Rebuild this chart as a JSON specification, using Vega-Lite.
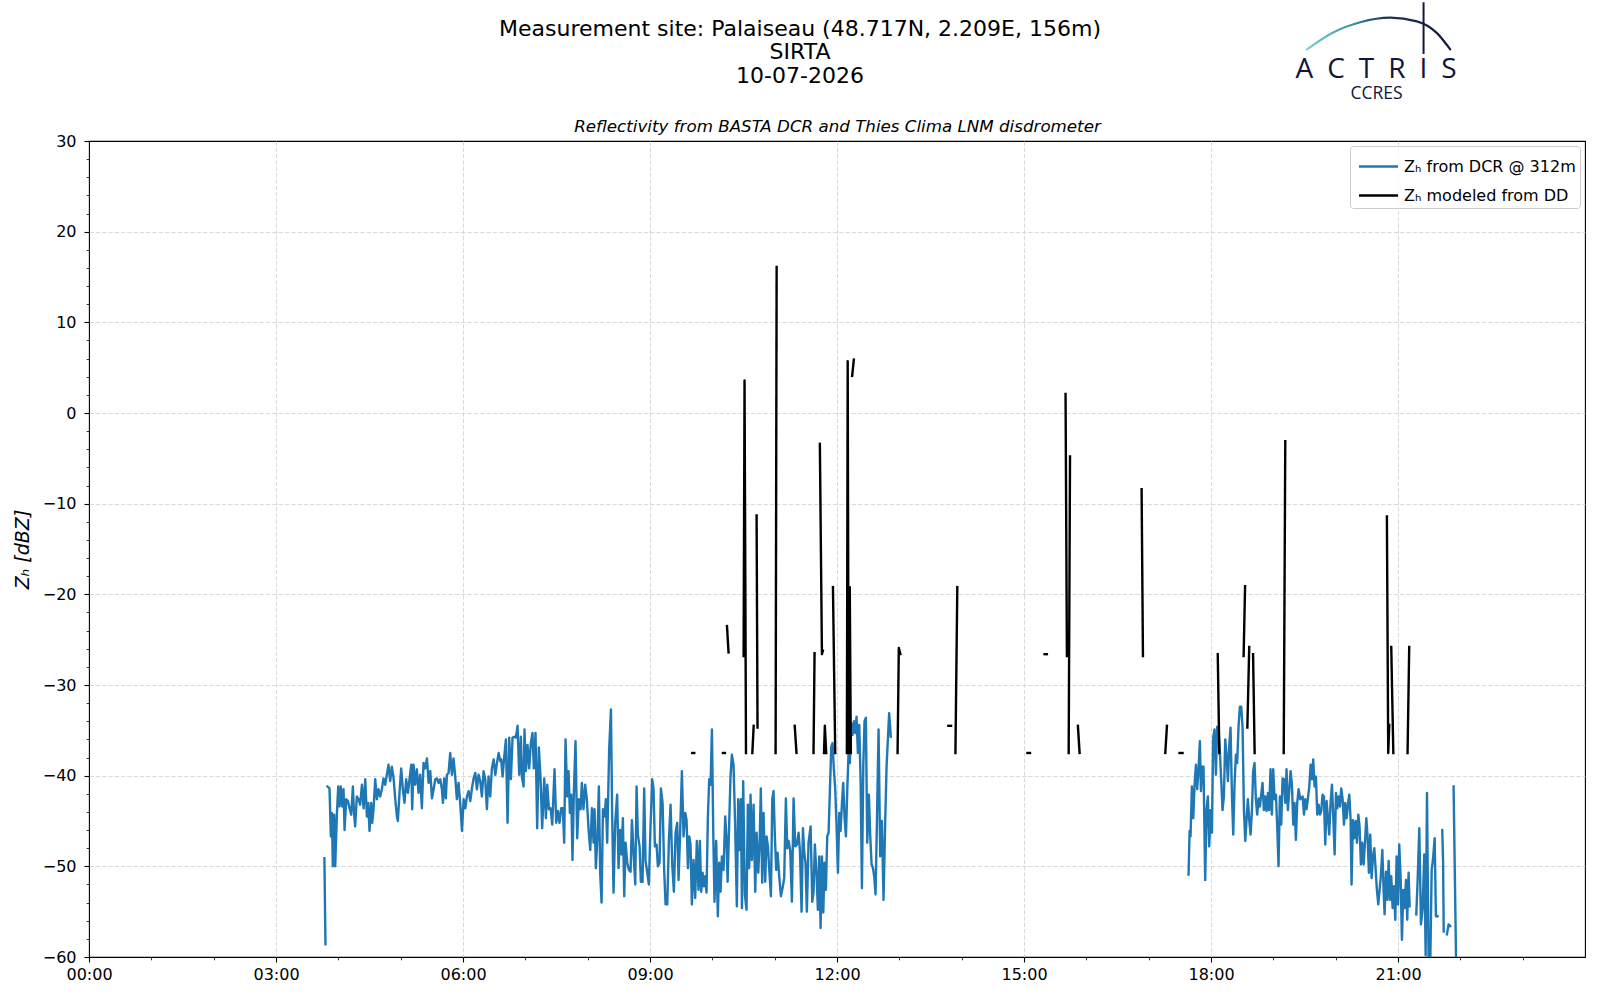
{
  "$schema": "https://vega.github.io/schema/vega-lite/v6.json",
  "autosize": {"type": "none"},
  "width": 1496,
  "height": 816,
  "padding": {"left": 89, "top": 141, "right": 15, "bottom": 43},
  "background": "white",
  "title": {
    "text": ["Measurement site: Palaiseau (48.717N, 2.209E, 156m)", "SIRTA", "10-07-2026"],
    "anchor": "middle",
    "frame": "group",
    "dx": -37,
    "dy": 86.5,
    "offset": 0,
    "font": "DejaVu Sans",
    "fontSize": 22,
    "fontWeight": "normal",
    "lineHeight": 23.5,
    "color": "#000000"
  },
  "config": {
    "font": "DejaVu Sans",
    "view": {"stroke": "#000000", "strokeWidth": 1.1},
    "axis": {
      "domain": false,
      "labelFont": "DejaVu Sans",
      "labelFontSize": 16,
      "labelColor": "#000000",
      "labelFlush": false,
      "tickColor": "#000000",
      "tickWidth": 1.1,
      "tickSize": 5,
      "labelPadding": 6,
      "gridColor": "#d0d0d0",
      "gridDash": [4.4, 1.9],
      "gridWidth": 0.8,
      "titleFont": "DejaVu Sans",
      "titleColor": "#000000",
      "titleFontWeight": "normal"
    },
    "legend": {
      "orient": "top-right",
      "offset": 5,
      "fillColor": "rgba(255,255,255,0.8)",
      "strokeColor": "#cccccc",
      "cornerRadius": 3,
      "padding": 4,
      "labelFont": "DejaVu Sans",
      "labelFontSize": 16,
      "labelColor": "#000000",
      "labelLimit": 400,
      "symbolType": "M-1.3,0H1.3",
      "symbolSize": 900,
      "symbolOffset": 8,
      "symbolStrokeWidth": 2.3,
      "labelOffset": 9,
      "rowPadding": 4
    }
  },
  "datasets": {
    "dcr": [
      {"t":226.6,"z":-49.1,"s":1},{"t":227.6,"z":-58.6,"s":1},
      {"t":229.6,"z":-41.2,"s":2},{"t":231.5,"z":-41.4,"s":2},{"t":232.8,"z":-46.7,"s":2},{"t":233.8,"z":-44.1,"s":2},{"t":234.7,"z":-50.0,"s":2},
      {"t":236.0,"z":-44.3,"s":2},{"t":237.0,"z":-50.0,"s":2},{"t":238.6,"z":-44.3,"s":2},{"t":239.9,"z":-41.2,"s":2},{"t":241.1,"z":-43.4,"s":2},
      {"t":242.4,"z":-41.2,"s":2},{"t":243.7,"z":-43.4,"s":2},{"t":245.0,"z":-41.5,"s":2},{"t":246.0,"z":-46.0,"s":2},{"t":247.6,"z":-42.6,"s":2},
      {"t":249.2,"z":-42.8,"s":2},{"t":250.8,"z":-43.6,"s":2},{"t":252.4,"z":-44.3,"s":2},{"t":254.0,"z":-41.2,"s":2},{"t":255.0,"z":-43.9,"s":2},
      {"t":256.2,"z":-45.6,"s":2},{"t":257.8,"z":-42.3,"s":2},{"t":259.4,"z":-42.6,"s":2},{"t":261.0,"z":-43.2,"s":2},{"t":262.7,"z":-41.0,"s":2},
      {"t":264.3,"z":-43.6,"s":2},{"t":265.9,"z":-40.4,"s":2},{"t":267.5,"z":-44.5,"s":2},{"t":268.8,"z":-43.0,"s":2},{"t":270.0,"z":-46.1,"s":2},
      {"t":271.6,"z":-43.0,"s":2},{"t":272.6,"z":-45.2,"s":2},{"t":273.9,"z":-43.7,"s":2},{"t":275.5,"z":-40.4,"s":2},{"t":277.1,"z":-42.6,"s":2},
      {"t":278.7,"z":-41.5,"s":2},{"t":280.3,"z":-42.3,"s":2},{"t":281.9,"z":-41.5,"s":2},{"t":283.5,"z":-40.3,"s":2},{"t":285.1,"z":-41.0,"s":2},
      {"t":286.7,"z":-39.9,"s":2},{"t":288.3,"z":-38.8,"s":2},{"t":289.9,"z":-40.6,"s":2},{"t":291.5,"z":-39.0,"s":2},{"t":293.2,"z":-40.3,"s":2},
      {"t":294.8,"z":-42.6,"s":2},{"t":296.4,"z":-44.5,"s":2},{"t":297.3,"z":-45.0,"s":2},{"t":298.9,"z":-41.9,"s":2},{"t":300.5,"z":-39.2,"s":2},
      {"t":302.1,"z":-41.5,"s":2},{"t":303.7,"z":-43.0,"s":2},{"t":305.3,"z":-40.4,"s":2},{"t":307.0,"z":-41.9,"s":2},{"t":308.6,"z":-40.3,"s":2},
      {"t":310.2,"z":-38.8,"s":2},{"t":311.1,"z":-43.7,"s":2},{"t":312.4,"z":-38.8,"s":2},{"t":314.0,"z":-41.0,"s":2},{"t":315.6,"z":-39.3,"s":2},
      {"t":317.2,"z":-41.9,"s":2},{"t":318.8,"z":-39.9,"s":2},{"t":320.4,"z":-43.6,"s":2},{"t":322.0,"z":-38.6,"s":2},{"t":323.6,"z":-39.2,"s":2},
      {"t":325.3,"z":-38.1,"s":2},{"t":326.9,"z":-40.8,"s":2},{"t":328.5,"z":-39.5,"s":2},{"t":330.1,"z":-42.5,"s":2},{"t":331.7,"z":-41.5,"s":2},
      {"t":333.3,"z":-40.4,"s":2},{"t":334.9,"z":-40.3,"s":2},{"t":336.5,"z":-40.8,"s":2},{"t":338.1,"z":-40.4,"s":2},{"t":339.7,"z":-41.5,"s":2},
      {"t":340.7,"z":-43.0,"s":2},{"t":341.9,"z":-40.3,"s":2},{"t":343.5,"z":-42.5,"s":2},{"t":344.5,"z":-39.9,"s":2},{"t":346.1,"z":-39.7,"s":2},
      {"t":347.7,"z":-37.5,"s":2},{"t":349.3,"z":-39.9,"s":2},{"t":350.9,"z":-38.1,"s":2},{"t":352.5,"z":-40.1,"s":2},{"t":354.1,"z":-42.6,"s":2},
      {"t":355.7,"z":-40.8,"s":2},{"t":357.4,"z":-43.2,"s":2},{"t":359.0,"z":-46.1,"s":2},{"t":360.6,"z":-42.6,"s":2},{"t":362.2,"z":-43.6,"s":2},
      {"t":363.8,"z":-42.3,"s":2},{"t":365.4,"z":-41.7,"s":2},{"t":367.0,"z":-42.8,"s":2},{"t":368.6,"z":-41.4,"s":2},{"t":370.2,"z":-40.3,"s":2},
      {"t":371.8,"z":-39.7,"s":2},{"t":373.4,"z":-41.5,"s":2},{"t":375.0,"z":-39.9,"s":2},{"t":376.6,"z":-40.6,"s":2},{"t":378.2,"z":-42.3,"s":2},
      {"t":379.8,"z":-39.5,"s":2},{"t":381.4,"z":-40.4,"s":2},{"t":383.0,"z":-43.7,"s":2},{"t":384.6,"z":-40.1,"s":2},{"t":386.2,"z":-42.3,"s":2},
      {"t":387.8,"z":-39.2,"s":2},{"t":389.5,"z":-38.2,"s":2},{"t":391.1,"z":-39.9,"s":2},{"t":392.7,"z":-38.6,"s":2},{"t":394.3,"z":-37.5,"s":2},
      {"t":395.9,"z":-38.4,"s":2},{"t":396.8,"z":-38.2,"s":2},{"t":398.1,"z":-40.1,"s":2},{"t":399.7,"z":-37.9,"s":2},{"t":401.3,"z":-36.0,"s":2},
      {"t":402.9,"z":-45.2,"s":2},{"t":404.5,"z":-35.8,"s":2},{"t":406.1,"z":-40.4,"s":2},{"t":407.7,"z":-35.8,"s":2},{"t":409.3,"z":-35.7,"s":2},
      {"t":410.9,"z":-35.8,"s":2},{"t":412.5,"z":-34.5,"s":2},{"t":414.1,"z":-39.9,"s":2},{"t":415.7,"z":-35.7,"s":2},{"t":416.7,"z":-40.1,"s":2},
      {"t":418.3,"z":-41.2,"s":2},{"t":419.2,"z":-34.9,"s":2},{"t":420.5,"z":-39.5,"s":2},{"t":422.1,"z":-36.6,"s":2},{"t":423.7,"z":-39.2,"s":2},
      {"t":425.3,"z":-36.4,"s":2},{"t":426.9,"z":-35.3,"s":2},{"t":428.2,"z":-39.2,"s":2},{"t":429.8,"z":-35.3,"s":2},{"t":431.4,"z":-45.8,"s":2},
      {"t":433.0,"z":-36.9,"s":2},{"t":434.6,"z":-40.1,"s":2},{"t":436.2,"z":-45.8,"s":2},{"t":438.2,"z":-40.3,"s":2},{"t":439.8,"z":-44.7,"s":2},
      {"t":441.1,"z":-41.0,"s":2},{"t":442.7,"z":-43.7,"s":2},{"t":444.3,"z":-43.6,"s":2},{"t":445.9,"z":-45.4,"s":2},{"t":448.1,"z":-39.3,"s":2},
      {"t":449.7,"z":-45.2,"s":2},{"t":451.3,"z":-43.9,"s":2},{"t":452.9,"z":-45.2,"s":2},{"t":454.5,"z":-43.6,"s":2},{"t":456.1,"z":-43.6,"s":2},
      {"t":457.4,"z":-47.4,"s":2},{"t":458.7,"z":-36.0,"s":2},{"t":460.3,"z":-42.3,"s":2},{"t":461.6,"z":-39.5,"s":2},{"t":462.9,"z":-44.1,"s":2},
      {"t":464.2,"z":-42.1,"s":2},{"t":465.4,"z":-49.3,"s":2},{"t":466.7,"z":-41.9,"s":2},{"t":468.3,"z":-36.2,"s":2},{"t":469.9,"z":-46.9,"s":2},
      {"t":471.5,"z":-42.6,"s":2},{"t":473.2,"z":-43.7,"s":2},{"t":474.4,"z":-40.8,"s":2},{"t":476.0,"z":-43.7,"s":2},{"t":477.6,"z":-41.0,"s":2},
      {"t":479.2,"z":-42.6,"s":2},{"t":480.9,"z":-46.0,"s":2},{"t":482.5,"z":-48.2,"s":2},{"t":484.1,"z":-43.6,"s":2},{"t":485.7,"z":-47.4,"s":2},
      {"t":486.6,"z":-43.7,"s":2},{"t":487.9,"z":-50.2,"s":2},{"t":489.5,"z":-46.5,"s":2},{"t":490.8,"z":-41.2,"s":2},{"t":492.1,"z":-50.9,"s":2},
      {"t":493.4,"z":-54.0,"s":2},{"t":494.7,"z":-43.7,"s":2},{"t":496.3,"z":-44.5,"s":2},{"t":497.5,"z":-42.6,"s":2},{"t":498.8,"z":-47.4,"s":2},
      {"t":500.7,"z":-37.1,"s":2},{"t":502.4,"z":-32.7,"s":2},{"t":503.6,"z":-44.5,"s":2},{"t":504.9,"z":-52.9,"s":2},{"t":506.5,"z":-45.2,"s":2},
      {"t":508.4,"z":-42.1,"s":2},{"t":509.7,"z":-50.2,"s":2},{"t":511.3,"z":-46.0,"s":2},{"t":512.6,"z":-48.7,"s":2},{"t":513.9,"z":-44.7,"s":2},
      {"t":515.2,"z":-53.3,"s":2},{"t":516.5,"z":-47.4,"s":2},{"t":518.1,"z":-49.6,"s":2},{"t":519.7,"z":-50.4,"s":2},{"t":521.3,"z":-50.6,"s":2},
      {"t":522.6,"z":-44.9,"s":2},{"t":523.9,"z":-48.0,"s":2},{"t":525.8,"z":-52.0,"s":2},{"t":527.1,"z":-41.2,"s":2},{"t":528.3,"z":-46.5,"s":2},
      {"t":530.0,"z":-47.8,"s":2},{"t":531.2,"z":-51.7,"s":2},{"t":532.8,"z":-51.7,"s":2},{"t":534.4,"z":-41.4,"s":2},{"t":535.7,"z":-49.4,"s":2},
      {"t":537.3,"z":-50.6,"s":2},{"t":538.9,"z":-52.0,"s":2},{"t":540.5,"z":-45.6,"s":2},{"t":542.1,"z":-40.4,"s":2},{"t":543.4,"z":-41.4,"s":2},
      {"t":544.7,"z":-47.8,"s":2},{"t":546.3,"z":-47.6,"s":2},{"t":547.6,"z":-50.0,"s":2},{"t":549.2,"z":-49.6,"s":2},{"t":550.5,"z":-41.4,"s":2},
      {"t":552.1,"z":-43.0,"s":2},{"t":553.7,"z":-50.6,"s":2},{"t":555.0,"z":-54.2,"s":2},{"t":556.6,"z":-54.2,"s":2},{"t":558.2,"z":-47.1,"s":2},
      {"t":559.8,"z":-43.2,"s":2},{"t":561.4,"z":-49.8,"s":2},{"t":563.0,"z":-52.8,"s":2},{"t":564.6,"z":-46.3,"s":2},{"t":566.2,"z":-45.2,"s":2},
      {"t":567.5,"z":-51.5,"s":2},{"t":569.1,"z":-46.0,"s":2},{"t":570.7,"z":-39.5,"s":2},{"t":572.3,"z":-46.7,"s":2},{"t":573.9,"z":-44.1,"s":2},
      {"t":575.2,"z":-44.9,"s":2},{"t":576.5,"z":-50.2,"s":2},{"t":577.8,"z":-46.7,"s":2},{"t":579.0,"z":-47.6,"s":2},{"t":580.3,"z":-54.2,"s":2},
      {"t":581.9,"z":-49.3,"s":2},{"t":583.5,"z":-53.5,"s":2},{"t":585.1,"z":-47.2,"s":2},{"t":586.7,"z":-52.6,"s":2},{"t":588.0,"z":-47.2,"s":2},
      {"t":589.3,"z":-52.8,"s":2},{"t":590.6,"z":-50.7,"s":2},{"t":591.9,"z":-52.2,"s":2},{"t":593.2,"z":-51.1,"s":2},{"t":594.4,"z":-52.9,"s":2},
      {"t":595.7,"z":-44.7,"s":2},{"t":597.0,"z":-40.4,"s":2},{"t":598.3,"z":-41.0,"s":2},{"t":599.6,"z":-34.9,"s":2},{"t":600.9,"z":-46.3,"s":2},
      {"t":602.1,"z":-53.9,"s":2},{"t":603.7,"z":-47.2,"s":2},{"t":605.3,"z":-55.5,"s":2},{"t":606.6,"z":-49.6,"s":2},{"t":607.9,"z":-52.8,"s":2},
      {"t":609.2,"z":-48.9,"s":2},{"t":610.8,"z":-50.4,"s":2},{"t":612.4,"z":-44.5,"s":2},{"t":613.7,"z":-47.1,"s":2},{"t":614.7,"z":-51.7,"s":2},
      {"t":616.3,"z":-44.9,"s":2},{"t":617.5,"z":-40.1,"s":2},{"t":618.8,"z":-37.7,"s":2},{"t":620.4,"z":-38.8,"s":2},{"t":622.0,"z":-45.6,"s":2},
      {"t":623.6,"z":-54.4,"s":2},{"t":624.9,"z":-42.6,"s":2},{"t":626.2,"z":-48.2,"s":2},{"t":627.5,"z":-42.6,"s":2},{"t":628.5,"z":-54.6,"s":2},
      {"t":629.7,"z":-40.6,"s":2},{"t":631.3,"z":-53.1,"s":2},{"t":632.9,"z":-54.8,"s":2},{"t":634.2,"z":-43.2,"s":2},{"t":635.5,"z":-50.2,"s":2},
      {"t":636.8,"z":-42.1,"s":2},{"t":638.1,"z":-49.3,"s":2},{"t":639.7,"z":-43.2,"s":2},{"t":641.3,"z":-52.8,"s":2},{"t":642.6,"z":-46.3,"s":2},
      {"t":644.2,"z":-50.7,"s":2},{"t":645.5,"z":-47.4,"s":2},{"t":646.7,"z":-41.4,"s":2},{"t":648.0,"z":-51.8,"s":2},{"t":649.3,"z":-44.1,"s":2},
      {"t":650.9,"z":-51.7,"s":2},{"t":652.2,"z":-46.7,"s":2},{"t":653.5,"z":-47.8,"s":2},{"t":655.1,"z":-50.9,"s":2},{"t":656.4,"z":-53.3,"s":2},
      {"t":657.7,"z":-42.6,"s":2},{"t":658.9,"z":-41.7,"s":2},{"t":660.2,"z":-46.7,"s":2},{"t":661.5,"z":-50.4,"s":2},{"t":662.8,"z":-48.5,"s":2},
      {"t":664.4,"z":-51.1,"s":2},{"t":666.0,"z":-53.3,"s":2},{"t":667.6,"z":-52.4,"s":2},{"t":669.2,"z":-51.3,"s":2},{"t":670.8,"z":-42.5,"s":2},
      {"t":672.1,"z":-48.0,"s":2},{"t":673.4,"z":-47.2,"s":2},{"t":675.0,"z":-48.3,"s":2},{"t":676.6,"z":-53.9,"s":2},{"t":678.2,"z":-42.5,"s":2},
      {"t":679.8,"z":-47.8,"s":2},{"t":681.4,"z":-47.6,"s":2},{"t":683.0,"z":-46.3,"s":2},{"t":684.3,"z":-48.2,"s":2},{"t":685.9,"z":-55.0,"s":2},
      {"t":687.2,"z":-45.8,"s":2},{"t":688.5,"z":-48.5,"s":2},{"t":689.7,"z":-49.6,"s":2},{"t":691.0,"z":-55.0,"s":2},{"t":692.6,"z":-47.4,"s":2},
      {"t":694.6,"z":-45.6,"s":2},{"t":696.2,"z":-53.9,"s":2},{"t":697.4,"z":-52.9,"s":2},{"t":698.7,"z":-47.6,"s":2},{"t":700.3,"z":-50.9,"s":2},
      {"t":701.6,"z":-54.8,"s":2},{"t":702.9,"z":-48.9,"s":2},{"t":704.2,"z":-56.8,"s":2},{"t":705.5,"z":-48.9,"s":2},{"t":706.8,"z":-55.1,"s":2},
      {"t":708.0,"z":-49.6,"s":2},{"t":709.3,"z":-52.6,"s":2},{"t":710.6,"z":-46.7,"s":2},{"t":711.9,"z":-46.3,"s":2},{"t":713.2,"z":-41.5,"s":2},
      {"t":714.5,"z":-36.8,"s":2},{"t":715.7,"z":-36.4,"s":2},{"t":717.0,"z":-39.3,"s":2},{"t":718.3,"z":-41.5,"s":2},{"t":719.6,"z":-45.6,"s":2},
      {"t":720.9,"z":-50.7,"s":2},{"t":722.2,"z":-44.1,"s":2},{"t":723.4,"z":-46.1,"s":2},{"t":724.7,"z":-43.2,"s":2},{"t":726.0,"z":-40.8,"s":2},
      {"t":727.3,"z":-44.7,"s":2},{"t":728.6,"z":-46.7,"s":2},{"t":729.9,"z":-41.5,"s":2},{"t":731.1,"z":-37.5,"s":2},{"t":732.4,"z":-38.6,"s":2},
      {"t":733.7,"z":-34.2,"s":2},{"t":735.0,"z":-35.5,"s":2},{"t":736.3,"z":-34.0,"s":2},{"t":737.6,"z":-35.3,"s":2},{"t":738.8,"z":-33.5,"s":2},
      {"t":740.1,"z":-37.5,"s":2},{"t":741.4,"z":-34.4,"s":2},{"t":742.7,"z":-40.4,"s":2},{"t":744.0,"z":-52.4,"s":2},{"t":745.3,"z":-39.0,"s":2},
      {"t":746.5,"z":-34.0,"s":2},{"t":747.8,"z":-33.6,"s":2},{"t":749.1,"z":-47.4,"s":2},{"t":750.7,"z":-42.1,"s":2},{"t":752.0,"z":-46.7,"s":2},
      {"t":753.3,"z":-49.8,"s":2},{"t":754.6,"z":-50.2,"s":2},{"t":755.8,"z":-51.1,"s":2},{"t":757.1,"z":-53.1,"s":2},{"t":758.4,"z":-45.4,"s":2},
      {"t":760.0,"z":-34.9,"s":2},{"t":761.6,"z":-48.9,"s":2},{"t":763.2,"z":-45.0,"s":2},{"t":764.8,"z":-53.7,"s":2},{"t":766.4,"z":-45.0,"s":2},
      {"t":767.7,"z":-39.0,"s":2},{"t":770.2,"z":-33.1,"s":2},{"t":771.8,"z":-35.7,"s":2},
      {"t":1058.4,"z":-50.9,"s":3},{"t":1059.4,"z":-46.1,"s":3},{"t":1060.3,"z":-46.7,"s":3},{"t":1061.6,"z":-41.2,"s":3},{"t":1062.9,"z":-44.7,"s":3},
      {"t":1064.2,"z":-41.0,"s":3},{"t":1065.5,"z":-38.8,"s":3},{"t":1066.7,"z":-41.5,"s":3},{"t":1068.0,"z":-39.3,"s":3},{"t":1069.3,"z":-36.2,"s":3},
      {"t":1070.3,"z":-41.7,"s":3},{"t":1071.5,"z":-39.0,"s":3},{"t":1072.8,"z":-39.0,"s":3},{"t":1074.4,"z":-51.5,"s":3},{"t":1075.7,"z":-43.8,"s":3},
      {"t":1077.0,"z":-42.3,"s":3},{"t":1078.3,"z":-47.8,"s":3},{"t":1079.6,"z":-43.8,"s":3},{"t":1080.9,"z":-46.3,"s":3},{"t":1082.1,"z":-35.8,"s":3},
      {"t":1083.4,"z":-34.9,"s":3},{"t":1084.7,"z":-39.9,"s":3},{"t":1086.0,"z":-34.6,"s":3},{"t":1087.3,"z":-35.1,"s":3},{"t":1088.6,"z":-37.5,"s":3},
      {"t":1089.8,"z":-40.4,"s":3},{"t":1091.1,"z":-43.8,"s":3},{"t":1092.4,"z":-42.3,"s":3},{"t":1093.7,"z":-36.0,"s":3},{"t":1095.0,"z":-37.9,"s":3},
      {"t":1096.3,"z":-40.6,"s":3},{"t":1097.5,"z":-36.8,"s":3},{"t":1098.8,"z":-34.7,"s":3},{"t":1100.1,"z":-41.9,"s":3},{"t":1101.4,"z":-46.5,"s":3},
      {"t":1102.7,"z":-40.8,"s":3},{"t":1104.0,"z":-37.7,"s":3},{"t":1105.2,"z":-38.6,"s":3},{"t":1106.5,"z":-34.6,"s":3},{"t":1107.8,"z":-32.4,"s":3},
      {"t":1109.1,"z":-32.4,"s":3},{"t":1110.4,"z":-34.7,"s":3},{"t":1111.7,"z":-43.8,"s":3},{"t":1113.0,"z":-47.2,"s":3},{"t":1114.2,"z":-44.9,"s":3},
      {"t":1115.5,"z":-42.6,"s":3},{"t":1116.8,"z":-44.9,"s":3},{"t":1118.1,"z":-46.5,"s":3},{"t":1119.4,"z":-43.8,"s":3},{"t":1120.6,"z":-39.5,"s":3},
      {"t":1121.9,"z":-38.6,"s":3},{"t":1123.2,"z":-42.6,"s":3},{"t":1124.5,"z":-44.3,"s":3},{"t":1125.8,"z":-42.5,"s":3},{"t":1127.1,"z":-43.4,"s":3},
      {"t":1128.3,"z":-42.1,"s":3},{"t":1129.6,"z":-40.8,"s":3},{"t":1130.9,"z":-43.8,"s":3},{"t":1132.2,"z":-42.3,"s":3},{"t":1133.5,"z":-43.9,"s":3},
      {"t":1134.8,"z":-41.9,"s":3},{"t":1136.0,"z":-43.8,"s":3},{"t":1137.3,"z":-39.3,"s":3},{"t":1138.6,"z":-44.3,"s":3},{"t":1139.9,"z":-39.3,"s":3},
      {"t":1141.2,"z":-42.6,"s":3},{"t":1142.5,"z":-42.1,"s":3},{"t":1143.8,"z":-45.8,"s":3},{"t":1145.0,"z":-50.0,"s":3},{"t":1146.3,"z":-42.3,"s":3},
      {"t":1147.6,"z":-45.4,"s":3},{"t":1148.9,"z":-40.3,"s":3},{"t":1150.2,"z":-40.4,"s":3},{"t":1151.5,"z":-43.0,"s":3},{"t":1152.7,"z":-39.3,"s":3},
      {"t":1154.0,"z":-43.8,"s":3},{"t":1155.3,"z":-41.7,"s":3},{"t":1156.6,"z":-39.5,"s":3},{"t":1157.9,"z":-41.0,"s":3},{"t":1159.2,"z":-45.4,"s":3},
      {"t":1160.4,"z":-43.0,"s":3},{"t":1161.7,"z":-47.1,"s":3},{"t":1163.0,"z":-43.0,"s":3},{"t":1164.3,"z":-41.5,"s":3},{"t":1165.9,"z":-42.6,"s":3},
      {"t":1168.2,"z":-42.3,"s":3},{"t":1169.5,"z":-44.3,"s":3},{"t":1170.7,"z":-42.6,"s":3},{"t":1172.0,"z":-43.7,"s":3},{"t":1173.3,"z":-42.5,"s":3},
      {"t":1174.6,"z":-41.2,"s":3},{"t":1175.9,"z":-38.8,"s":3},{"t":1177.2,"z":-40.4,"s":3},{"t":1178.4,"z":-38.2,"s":3},{"t":1179.7,"z":-41.2,"s":3},
      {"t":1181.0,"z":-40.1,"s":3},{"t":1182.3,"z":-44.3,"s":3},{"t":1183.6,"z":-43.2,"s":3},{"t":1184.9,"z":-44.3,"s":3},{"t":1186.1,"z":-43.9,"s":3},
      {"t":1187.4,"z":-42.1,"s":3},{"t":1188.7,"z":-42.3,"s":3},{"t":1190.0,"z":-47.6,"s":3},{"t":1191.3,"z":-42.8,"s":3},{"t":1192.6,"z":-44.7,"s":3},
      {"t":1193.8,"z":-46.5,"s":3},{"t":1195.1,"z":-43.0,"s":3},{"t":1196.4,"z":-41.0,"s":3},{"t":1197.7,"z":-44.5,"s":3},{"t":1199.0,"z":-48.7,"s":3},
      {"t":1200.3,"z":-41.9,"s":3},{"t":1201.5,"z":-43.6,"s":3},{"t":1202.8,"z":-42.3,"s":3},{"t":1204.1,"z":-43.4,"s":3},{"t":1205.4,"z":-41.4,"s":3},
      {"t":1206.7,"z":-42.6,"s":3},{"t":1208.0,"z":-45.4,"s":3},{"t":1209.2,"z":-43.0,"s":3},{"t":1210.5,"z":-44.7,"s":3},{"t":1211.8,"z":-43.2,"s":3},
      {"t":1213.1,"z":-42.1,"s":3},{"t":1214.4,"z":-44.9,"s":3},{"t":1215.3,"z":-52.0,"s":3},{"t":1216.6,"z":-44.9,"s":3},{"t":1217.9,"z":-46.9,"s":3},
      {"t":1219.2,"z":-45.0,"s":3},{"t":1220.5,"z":-47.4,"s":3},{"t":1221.8,"z":-44.3,"s":3},{"t":1223.0,"z":-45.6,"s":3},{"t":1224.3,"z":-49.8,"s":3},
      {"t":1225.6,"z":-47.4,"s":3},{"t":1226.9,"z":-49.8,"s":3},{"t":1228.2,"z":-47.4,"s":3},{"t":1229.5,"z":-44.7,"s":3},{"t":1230.7,"z":-46.7,"s":3},
      {"t":1232.0,"z":-50.7,"s":3},{"t":1233.3,"z":-46.5,"s":3},{"t":1234.6,"z":-51.3,"s":3},{"t":1235.9,"z":-48.9,"s":3},{"t":1237.2,"z":-48.0,"s":3},
      {"t":1238.5,"z":-50.4,"s":3},{"t":1239.7,"z":-52.6,"s":3},{"t":1241.0,"z":-54.2,"s":3},{"t":1242.3,"z":-52.6,"s":3},{"t":1243.6,"z":-50.9,"s":3},
      {"t":1244.9,"z":-48.2,"s":3},{"t":1246.2,"z":-52.8,"s":3},{"t":1247.1,"z":-55.3,"s":3},{"t":1248.4,"z":-50.6,"s":3},{"t":1249.7,"z":-53.7,"s":3},
      {"t":1251.0,"z":-49.4,"s":3},{"t":1252.3,"z":-53.7,"s":3},{"t":1253.5,"z":-51.1,"s":3},{"t":1254.8,"z":-54.6,"s":3},{"t":1256.1,"z":-52.2,"s":3},
      {"t":1257.4,"z":-55.9,"s":3},{"t":1258.7,"z":-48.9,"s":3},{"t":1260.0,"z":-54.2,"s":3},{"t":1261.2,"z":-47.6,"s":3},{"t":1262.5,"z":-51.1,"s":3},
      {"t":1263.8,"z":-58.1,"s":3},{"t":1265.1,"z":-52.6,"s":3},{"t":1266.4,"z":-54.6,"s":3},{"t":1267.7,"z":-51.5,"s":3},{"t":1268.9,"z":-55.9,"s":3},
      {"t":1270.2,"z":-50.7,"s":3},{"t":1271.2,"z":-54.4,"s":3},
      {"t":1277.6,"z":-55.3,"s":4},{"t":1278.9,"z":-51.5,"s":4},{"t":1280.5,"z":-45.8,"s":4},{"t":1282.1,"z":-56.4,"s":4},{"t":1283.7,"z":-54.6,"s":4},
      {"t":1285.3,"z":-48.7,"s":4},{"t":1286.6,"z":-59.8,"s":4},{"t":1287.9,"z":-41.9,"s":4},{"t":1289.5,"z":-61.0,"s":4},{"t":1291.1,"z":-60.5,"s":4},
      {"t":1292.4,"z":-50.4,"s":4},{"t":1293.6,"z":-49.3,"s":4},{"t":1295.3,"z":-46.9,"s":4},{"t":1296.5,"z":-55.5,"s":4},{"t":1298.1,"z":-55.5,"s":4},
      {"t":1302.6,"z":-46.0,"s":5},{"t":1303.4,"z":-49.5,"s":5},{"t":1304.0,"z":-57.2,"s":5},
      {"t":1307.1,"z":-57.5,"s":6},{"t":1308.7,"z":-56.4,"s":6},{"t":1310.3,"z":-56.6,"s":6},
      {"t":1313.5,"z":-41.2,"s":7},{"t":1316.1,"z":-62.0,"s":7}
    ],
    "dd": [
      {"t":580.7,"z":-37.5,"s":1},{"t":582.6,"z":-37.5,"s":1},
      {"t":610.2,"z":-37.5,"s":2},{"t":612.1,"z":-37.5,"s":2},
      {"t":614.1,"z":-23.5,"s":3},{"t":615.6,"z":-26.4,"s":3},
      {"t":630.1,"z":-26.8,"s":4},{"t":631.0,"z":3.6,"s":4},{"t":632.4,"z":-37.5,"s":4},
      {"t":638.5,"z":-37.5,"s":5},{"t":639.8,"z":-34.5,"s":5},
      {"t":642.6,"z":-11.3,"s":6},{"t":643.5,"z":-34.7,"s":6},
      {"t":660.9,"z":-37.5,"s":7},{"t":661.9,"z":16.1,"s":7},
      {"t":679.3,"z":-34.5,"s":8},{"t":681.0,"z":-37.5,"s":8},
      {"t":697.4,"z":-37.5,"s":9},{"t":698.4,"z":-26.5,"s":9},
      {"t":703.5,"z":-3.4,"s":10},{"t":705.5,"z":-26.6,"s":10},{"t":706.4,"z":-26.2,"s":10},
      {"t":707.5,"z":-37.5,"s":11},{"t":708.3,"z":-34.5,"s":11},{"t":709.6,"z":-37.5,"s":11},
      {"t":716.1,"z":-19.2,"s":12},{"t":718.3,"z":-37.5,"s":12},
      {"t":729.5,"z":-37.5,"s":13},{"t":730.3,"z":5.7,"s":13},{"t":731.2,"z":-37.5,"s":13},{"t":732.3,"z":-19.2,"s":13},{"t":733.3,"z":-37.5,"s":13},
      {"t":734.6,"z":4.1,"s":14},{"t":736.2,"z":5.9,"s":14},
      {"t":778.3,"z":-37.5,"s":15},{"t":779.5,"z":-25.9,"s":15},{"t":781.0,"z":-26.6,"s":15},
      {"t":827.2,"z":-34.5,"s":16},{"t":829.8,"z":-34.5,"s":16},
      {"t":834.0,"z":-37.5,"s":17},{"t":835.8,"z":-19.2,"s":17},
      {"t":903.3,"z":-37.5,"s":18},{"t":905.8,"z":-37.5,"s":18},
      {"t":919.8,"z":-26.6,"s":19},{"t":922.0,"z":-26.6,"s":19},
      {"t":940.0,"z":2.1,"s":20},{"t":941.3,"z":-26.8,"s":20},
      {"t":943.0,"z":-37.5,"s":21},{"t":944.3,"z":-4.8,"s":21},
      {"t":951.9,"z":-34.5,"s":22},{"t":953.5,"z":-37.5,"s":22},
      {"t":1013.2,"z":-8.4,"s":23},{"t":1014.5,"z":-26.8,"s":23},
      {"t":1036.0,"z":-37.5,"s":24},{"t":1037.6,"z":-34.5,"s":24},
      {"t":1049.7,"z":-37.5,"s":25},{"t":1052.6,"z":-37.5,"s":25},
      {"t":1086.5,"z":-26.6,"s":26},{"t":1088.0,"z":-37.5,"s":26},
      {"t":1111.4,"z":-26.8,"s":27},{"t":1112.8,"z":-19.1,"s":27},
      {"t":1115.0,"z":-34.7,"s":28},{"t":1116.8,"z":-25.8,"s":28},
      {"t":1120.5,"z":-26.6,"s":29},{"t":1122.0,"z":-37.5,"s":29},
      {"t":1150.0,"z":-37.5,"s":30},{"t":1151.5,"z":-3.1,"s":30},
      {"t":1249.3,"z":-11.4,"s":31},{"t":1250.6,"z":-37.5,"s":31},{"t":1251.6,"z":-34.4,"s":31},
      {"t":1253.5,"z":-25.8,"s":32},{"t":1255.5,"z":-37.5,"s":32},
      {"t":1269.2,"z":-37.5,"s":33},{"t":1270.8,"z":-25.8,"s":33}
    ],
    "arc": [
      {"t":1172.3,"v":40.1},{"t":1198.0,"v":42.0},{"t":1223.7,"v":43.1},{"t":1252.6,"v":43.6},
      {"t":1278.2,"v":43.2},{"t":1297.5,"v":41.9},{"t":1310.3,"v":40.1}
    ]
  },
  "layer": [
    {
      "data": {"values": [{"t": 0, "z": -60}]},
      "mark": {"type": "point", "opacity": 0},
      "encoding": {
        "x": {"field": "t", "type": "quantitative", "scale": {"domain": [0, 1440], "nice": false},
          "axis": {"orient": "bottom", "values": [60,120,240,300,420,480,600,660,780,840,960,1020,1140,1200,1320,1380],
            "labels": false, "grid": false, "tickSize": 2.8, "tickWidth": 0.8, "title": null}},
        "y": {"field": "z", "type": "quantitative", "scale": {"domain": [-60, 30], "nice": false},
          "axis": {"orient": "left", "values": [-58,-56,-54,-52,-48,-46,-44,-42,-38,-36,-34,-32,-28,-26,-24,-22,-18,-16,-14,-12,-8,-6,-4,-2,2,4,6,8,12,14,16,18,22,24,26,28],
            "labels": false, "grid": false, "tickSize": 2.8, "tickWidth": 0.8, "title": null}}
      }
    },
    {
      "data": {"values": [{"t": 0, "z": -60}]},
      "mark": {"type": "point", "opacity": 0},
      "encoding": {
        "x": {"field": "t", "type": "quantitative", "scale": {"domain": [0, 1440], "nice": false},
          "axis": {"orient": "top", "ticks": false, "labels": false, "grid": false,
            "title": "Reflectivity from BASTA DCR and Thies Clima LNM disdrometer",
            "titleFontStyle": "italic", "titleFontSize": 16.7, "titlePadding": 6}},
        "y": {"field": "z", "type": "quantitative", "axis": null}
      }
    },
    {
      "data": {"name": "dcr"},
      "mark": {"type": "line", "strokeWidth": 2.4, "strokeJoin": "round", "strokeCap": "square", "clip": true},
      "encoding": {
        "x": {"field": "t", "type": "quantitative", "scale": {"domain": [0, 1440], "nice": false},
          "axis": {"orient": "bottom", "values": [0,180,360,540,720,900,1080,1260], "grid": true, "title": null, "labelPadding": 4,
            "gridOpacity": {"condition": {"test": "datum.value == 0", "value": 0}, "value": 1},
            "labelExpr": "(datum.value < 600 ? '0' : '') + floor(datum.value / 60) + ':00'"}},
        "y": {"field": "z", "type": "quantitative", "scale": {"domain": [-60, 30], "nice": false},
          "axis": {"orient": "left", "values": [-60,-50,-40,-30,-20,-10,0,10,20,30], "grid": true, "labelPadding": 8,
            "gridOpacity": {"condition": {"test": "datum.value == -60 || datum.value == 30", "value": 0}, "value": 1},
            "title": "Zₕ [dBZ]", "titleFontStyle": "italic", "titleFontSize": 19, "titlePadding": 10}},
        "color": {"datum": "Zₕ from DCR @ 312m", "type": "nominal",
          "scale": {"domain": ["Zₕ from DCR @ 312m", "Zₕ modeled from DD"], "range": ["#1f77b4", "#000000"]},
          "legend": {"title": null}},
        "detail": {"field": "s", "type": "nominal"}
      }
    },
    {
      "data": {"name": "dd"},
      "mark": {"type": "line", "strokeWidth": 2.4, "strokeJoin": "round", "strokeCap": "square", "clip": true},
      "encoding": {
        "x": {"field": "t", "type": "quantitative", "axis": null},
        "y": {"field": "z", "type": "quantitative", "axis": null},
        "color": {"datum": "Zₕ modeled from DD", "type": "nominal"},
        "detail": {"field": "s", "type": "nominal"}
      }
    },
    {
      "data": {"name": "arc"},
      "mark": {"type": "line", "strokeWidth": 2.2, "strokeCap": "round", "interpolate": "monotone",
        "color": {"gradient": "linear", "x1": 0, "x2": 1, "y1": 0, "y2": 0,
          "stops": [{"offset": 0, "color": "#7fd0cc"}, {"offset": 0.3, "color": "#3d98a4"}, {"offset": 0.55, "color": "#1d3557"}, {"offset": 1, "color": "#141838"}]}},
      "encoding": {
        "x": {"field": "t", "type": "quantitative", "axis": null},
        "y": {"field": "v", "type": "quantitative", "axis": null}
      }
    },
    {
      "data": {"values": [{}]},
      "mark": {"type": "rule", "strokeWidth": 2, "color": "#141838"},
      "encoding": {
        "x": {"datum": 1284.6, "type": "quantitative", "axis": null},
        "y": {"datum": 45.3, "type": "quantitative", "axis": null},
        "y2": {"datum": 39.6}
      }
    },
    {
      "data": {"values": [{}]},
      "mark": {"type": "text", "font": "Open Sans", "fontSize": 28, "align": "center", "baseline": "alphabetic", "color": "#12153a"},
      "encoding": {
        "x": {"datum": 1238.9, "type": "quantitative", "axis": null},
        "y": {"datum": 37.0, "type": "quantitative", "axis": null},
        "text": {"value": "A\u2002C\u2002T\u2002R\u2002I\u2002S"}
      }
    },
    {
      "data": {"values": [{}]},
      "mark": {"type": "text", "font": "Open Sans", "fontSize": 17.5, "align": "center", "baseline": "alphabetic", "color": "#12153a"},
      "encoding": {
        "x": {"datum": 1239.4, "type": "quantitative", "axis": null},
        "y": {"datum": 34.6, "type": "quantitative", "axis": null},
        "text": {"value": "CCRES"}
      }
    }
  ],
  "resolve": {"axis": {"x": "independent", "y": "independent"}}
}
